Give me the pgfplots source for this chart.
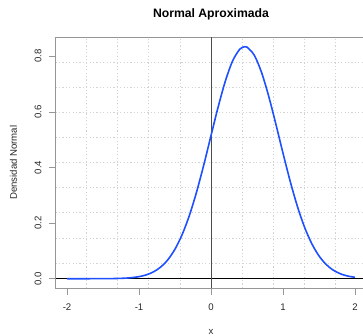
\documentclass[border=0pt]{standalone}
\usepackage{fontspec}
\setmainfont{Liberation Sans}
\usepackage{pgfplots}
\pgfplotsset{compat=1.18}
\definecolor{curveblue}{RGB}{30,80,255}
\definecolor{boxgray}{RGB}{150,150,150}
\definecolor{gridgray}{RGB}{211,211,211}
\begin{document}
\begin{tikzpicture}
\path[use as bounding box] (0,0) rectangle (363bp,336bp);
\begin{axis}[
  at={(55.5bp,48bp)}, anchor=south west,
  scale only axis, width=307.5bp, height=250.6bp,
  xmin=-2.16, xmax=2.111, ymin=-0.0334, ymax=0.868,
  axis line style={boxgray, line width=0.7bp},
  tick style={boxgray, line width=0.7bp},
  tick align=outside, major tick length=6.5bp,
  xtick={-2,-1,0,1,2}, ytick={0,0.2,0.4,0.6,0.8},
  xticklabels={-2,-1,0,1,2},
  yticklabels={0.0,0.2,0.4,0.6,0.8},
  xtick pos=bottom, ytick pos=left,
  minor xtick={-1.728,-1.296,-0.864,-0.432,0,0.432,0.864,1.296,1.728},
  minor ytick={0.0567,0.1468,0.2370,0.3271,0.4173,0.5074,0.5975,0.6877,0.7778},
  minor tick length=0pt,
  xminorgrids, yminorgrids,
  minor grid style={gridgray, line width=0.7bp, dash pattern=on 1.2bp off 2.2bp},
  ticklabel style={font=\fontsize{9.6bp}{11bp}\selectfont, text=black!85},
  xticklabel style={yshift=-6bp},
  yticklabel style={xshift=-4bp, rotate=90, anchor=south},
  title={\textbf{Normal Aproximada}},
  title style={font=\fontsize{12.2bp}{14bp}\selectfont, at={(axis description cs:0.5057,1.068)}, anchor=center},
  xlabel={x},
  xlabel style={font=\fontsize{9.6bp}{11bp}\selectfont, text=black!85, at={(axis description cs:0.5057,-0.174)}, anchor=center},
  ylabel={Densidad Normal},
  ylabel style={font=\fontsize{9.6bp}{11bp}\selectfont, text=black!85, at={(axis description cs:-0.137,0.5)}, anchor=center, rotate=0},
  clip=true,
]
\addplot[black, line width=0.8bp] coordinates {(-2.16,0) (2.2,0)};
\addplot[black!70, line width=0.8bp] coordinates {(0,-0.0334) (0,0.868)};
\addplot[curveblue, line width=1.6bp, smooth] coordinates {
(-2.0,0.0000) (-1.8,0.0000) (-1.6,0.0001) (-1.5,0.0002) (-1.4,0.0004) (-1.3,0.0009)
(-1.2,0.0019) (-1.1,0.0038) (-1.0,0.0074) (-0.9,0.0137) (-0.8,0.0245)
(-0.7,0.0418) (-0.6,0.0681) (-0.5,0.1065) (-0.4,0.1593) (-0.3,0.2280)
(-0.2,0.3125) (-0.1,0.4099) (0.0,0.5147) (0.1,0.6186) (0.2,0.7116)
(0.3,0.7835) (0.4,0.8257) (0.47,0.8346) (0.5,0.8330) (0.6,0.8043)
(0.7,0.7434) (0.8,0.6576) (0.9,0.5569) (1.0,0.4514) (1.1,0.3502)
(1.2,0.2600) (1.3,0.1848) (1.4,0.1258) (1.5,0.0819) (1.6,0.0510)
(1.7,0.0305) (1.8,0.0174) (1.9,0.0095) (2.0,0.0050)
};
\end{axis}
\end{tikzpicture}
\end{document}
